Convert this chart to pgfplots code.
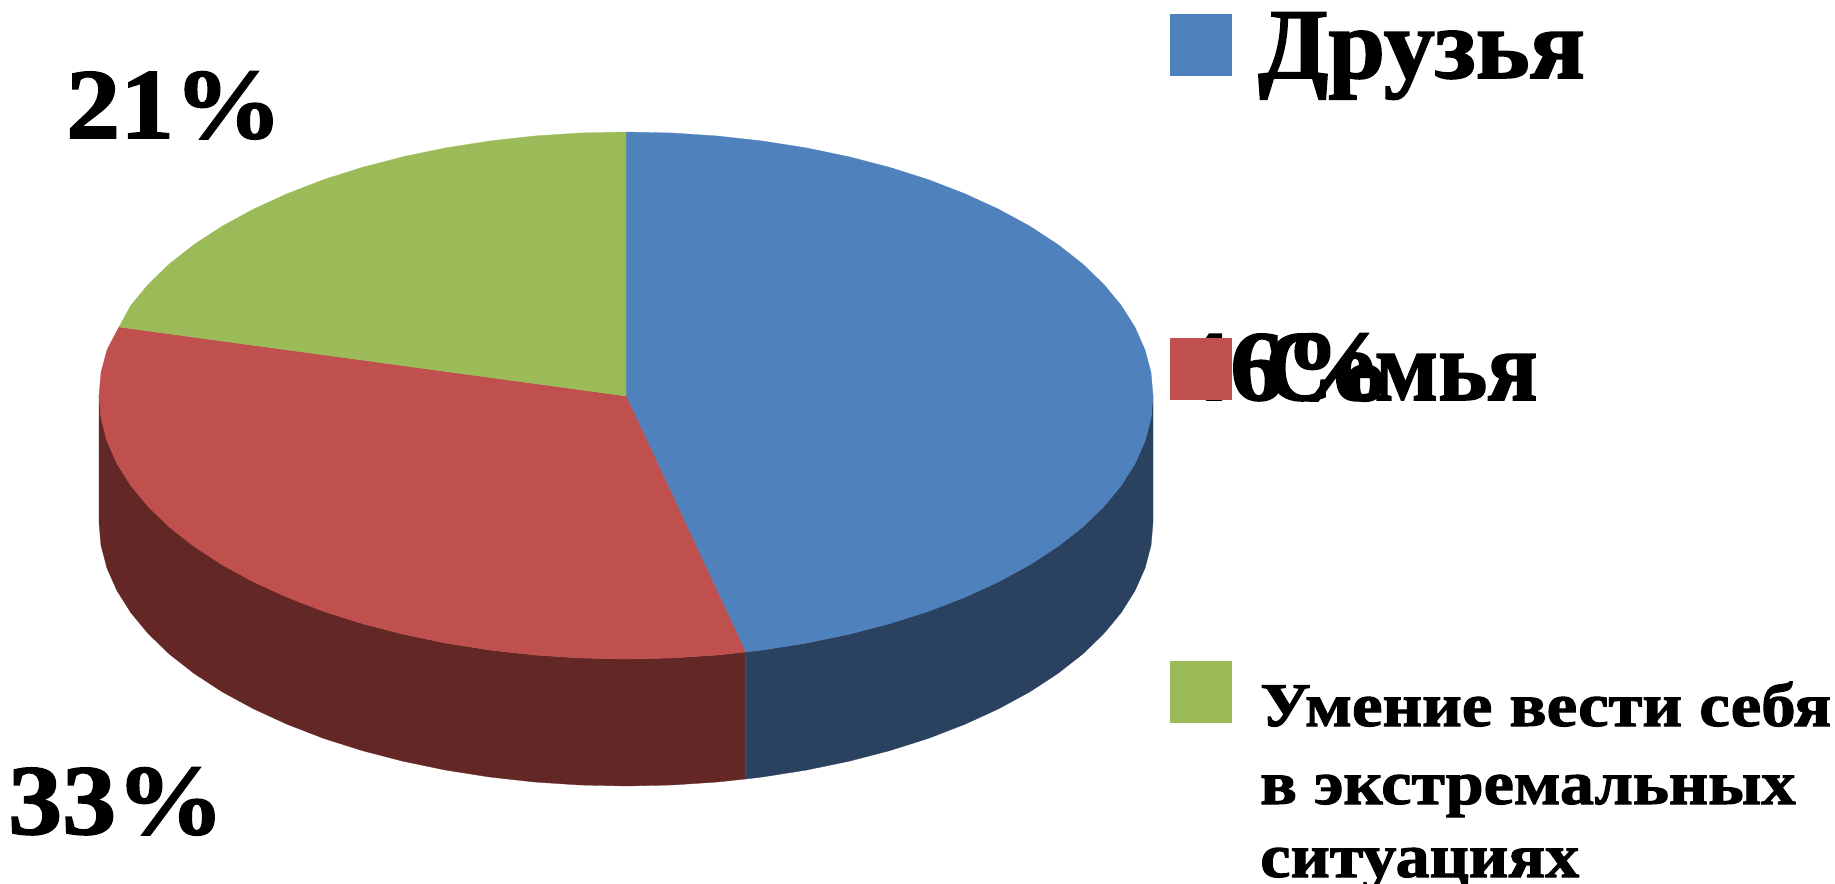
\documentclass[border=0pt]{standalone}
\usepackage{pgfplots}
\pgfplotsset{compat=1.18}
\usepackage{fontspec}
\setmainfont{Liberation Serif}[BoldFeatures={FakeBold=1.6}]
\definecolor{cb}{HTML}{4F81BD}
\definecolor{cr}{HTML}{C0504D}
\definecolor{cg}{HTML}{9BBB59}
\definecolor{db}{HTML}{2A4160}
\definecolor{dr}{HTML}{632726}
\newcommand{\lab}[3]{\scalebox{#1}[#2]{\bfseries #3}}
\begin{document}
\begin{tikzpicture}
\begin{axis}[
  scale only axis, width=1835pt, height=883pt,
  xmin=0, xmax=1835, ymin=0, ymax=883, y dir=reverse,
  axis lines=none, clip=true,
  every axis plot/.append style={line width=0.3pt}
]
% dark side, blue slice
\addplot[fill=db,draw=db] coordinates {
(1153,395.5)(1151,418.5)(1145,441.2)(1135,463.7)(1121.2,485.6)(1103.6,506.9)(1082.4,527.3)(1057.7,546.6)(1029.7,564.9)(998.6,581.8)(964.8,597.3)(928.3,611.4)(889.5,623.7)(848.7,634.3)(806.2,643.1)(762.4,650)(745.5,652)
(745.5,779)(762.4,777)(806.2,770.1)(848.7,761.3)(889.5,750.7)(928.3,738.4)(964.8,724.3)(998.6,708.8)(1029.7,691.9)(1057.7,673.6)(1082.4,654.3)(1103.6,633.9)(1121.2,612.6)(1135,590.7)(1145,568.2)(1151,545.5)(1153,522.5)} --cycle;
% dark side, red slice
\addplot[fill=dr,draw=dr] coordinates {
(745.5,652)(717.5,655)(672,658)(626,659)(580,658)(534.5,655)(489.6,650)(445.8,643.1)(403.3,634.3)(362.5,623.7)(323.7,611.4)(287.2,597.3)(253.4,581.8)(222.3,564.9)(194.3,546.6)(169.6,527.3)(148.4,506.9)(130.8,485.6)(117,463.7)(107,441.2)(101,418.5)(99,395.5)
(99,522.5)(101,545.5)(107,568.2)(117,590.7)(130.8,612.6)(148.4,633.9)(169.6,654.3)(194.3,673.6)(222.3,691.9)(253.4,708.8)(287.2,724.3)(323.7,738.4)(362.5,750.7)(403.3,761.3)(445.8,770.1)(489.6,777)(534.5,782)(580,785)(626,786)(672,785)(717.5,782)(745.5,779)} --cycle;
% top, blue
\addplot[fill=cb,draw=cb] coordinates {
(626,396)(626,132)(672,133)(717.5,136)(762.4,141)(806.2,147.9)(848.7,156.7)(889.5,167.3)(928.3,179.6)(964.8,193.7)(998.6,209.2)(1029.7,226.1)(1057.7,244.4)(1082.4,263.7)(1103.6,284.1)(1121.2,305.4)(1135,327.3)(1145,349.8)(1151,372.5)(1153,395.5)(1151,418.5)(1145,441.2)(1135,463.7)(1121.2,485.6)(1103.6,506.9)(1082.4,527.3)(1057.7,546.6)(1029.7,564.9)(998.6,581.8)(964.8,597.3)(928.3,611.4)(889.5,623.7)(848.7,634.3)(806.2,643.1)(762.4,650)(745.5,652)} --cycle;
% top, red
\addplot[fill=cr,draw=cr] coordinates {
(626,396)(745.5,652)(717.5,655)(672,658)(626,659)(580,658)(534.5,655)(489.6,650)(445.8,643.1)(403.3,634.3)(362.5,623.7)(323.7,611.4)(287.2,597.3)(253.4,581.8)(222.3,564.9)(194.3,546.6)(169.6,527.3)(148.4,506.9)(130.8,485.6)(117,463.7)(107,441.2)(101,418.5)(99,395.5)(101,372.5)(107,349.8)(119,327)} --cycle;
% top, green
\addplot[fill=cg,draw=cg] coordinates {
(626,396)(119,327)(130.8,305.4)(148.4,284.1)(169.6,263.7)(194.3,244.4)(222.3,226.1)(253.4,209.2)(287.2,193.7)(323.7,179.6)(362.5,167.3)(403.3,156.7)(445.8,147.9)(489.6,141)(534.5,136)(580,133)(626,132)} --cycle;
% data labels
\node[anchor=base west,inner sep=0pt] at (axis cs:66,138) {\lab{1.08}{1}{\fontsize{100}{100}\selectfont 21\%}};
\node[anchor=base west,inner sep=0pt] at (axis cs:8,834) {\lab{1.08}{1}{\fontsize{100}{100}\selectfont 33\%}};
\node[anchor=base west,inner sep=0pt] at (axis cs:1176,400) {\lab{1.08}{1}{\fontsize{100}{100}\selectfont 46\%}};
% legend swatches
\addplot[fill=cb,draw=none] coordinates {(1170,14)(1232,14)(1232,76)(1170,76)} --cycle;
\addplot[fill=cr,draw=none] coordinates {(1170,338)(1232,338)(1232,400)(1170,400)} --cycle;
\addplot[fill=cg,draw=none] coordinates {(1170,661)(1232,661)(1232,723)(1170,723)} --cycle;
% legend text
\node[anchor=base west,inner sep=0pt] at (axis cs:1258,78) {\lab{1.02}{1}{\fontsize{100}{100}\selectfont Друзья}};
\node[anchor=base west,inner sep=0pt] at (axis cs:1265,400) {\lab{0.93}{1}{\fontsize{100}{100}\selectfont Семья}};
\node[anchor=base west,inner sep=0pt] at (axis cs:1260,726) {\lab{1.11}{1}{\fontsize{62}{62}\selectfont Умение вести себя}};
\node[anchor=base west,inner sep=0pt] at (axis cs:1260,804) {\lab{1.1}{1}{\fontsize{62}{62}\selectfont в экстремальных}};
\node[anchor=base west,inner sep=0pt] at (axis cs:1260,877) {\lab{1.1}{1}{\fontsize{62}{62}\selectfont ситуациях}};
\end{axis}
\pgfresetboundingbox
\path[use as bounding box] (0,0) rectangle (1835pt,883pt);
\end{tikzpicture}
\end{document}
